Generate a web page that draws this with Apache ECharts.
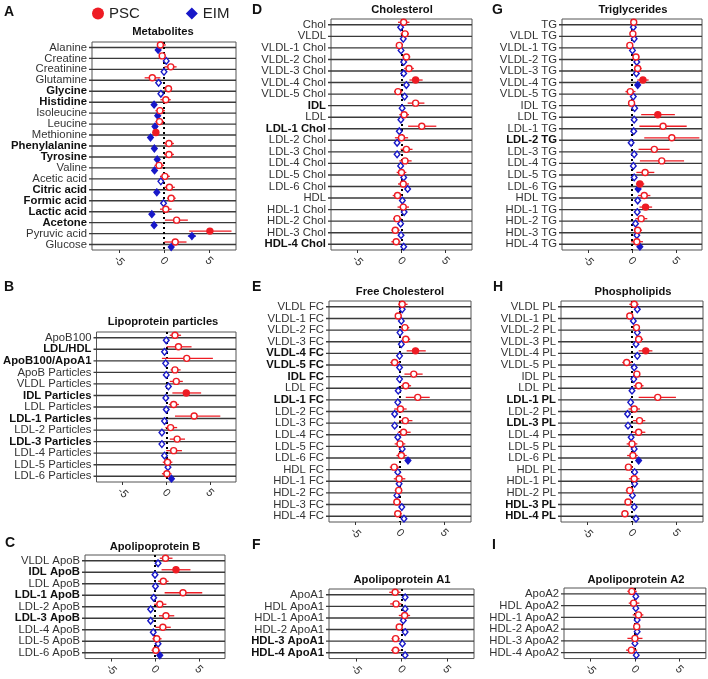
<!DOCTYPE html>
<html><head><meta charset="utf-8">
<script src="https://cdn.jsdelivr.net/npm/echarts@6/dist/echarts.min.js"></script>
<style>html,body{margin:0;padding:0;background:#fff}#c{width:708px;height:679px}</style>
</head><body><div id="c"></div>
<script>
// ---------- DATA ----------
// A Metabolites
const catsA = ['Alanine','Creatine','Creatinine','Glutamine','Glycine','Histidine','Isoleucine','Leucine','Methionine','Phenylalanine','Tyrosine','Valine','Acetic acid','Citric acid','Formic acid','Lactic acid','Acetone','Pyruvic acid','Glucose'];
const boldA = ['Glycine','Histidine','Phenylalanine','Tyrosine','Citric acid','Formic acid','Lactic acid','Acetone'];
const pscA   = [-0.4,-0.2,0.75,-1.3,0.5,0.2,-0.45,-0.5,-0.9,0.55,0.55,-0.55,0.1,0.6,0.8,0.2,1.4,5.1,1.25];
const pscLoA = [-0.75,-0.55,0.05,-2.15,0,-0.4,-0.95,-0.95,-1.3,0,0,-1.05,-0.45,0.05,0.35,-0.45,0.1,2.8,0.05];
const pscHiA = [0.2,0.2,1.4,-0.4,0.9,0.75,0.1,0,-0.55,1.1,1.1,0,0.65,1.2,1.3,0.85,2.65,7.5,2.5];
const pscSigA= [0,0,0,0,0,0,0,0,1,0,0,0,0,0,0,0,0,1,0];
const eimA   = [-0.65,0.25,0,-0.6,-0.35,-1.1,-0.7,-1.0,-1.5,-1.07,-0.75,-1.05,-0.35,-0.8,-0.05,-1.35,-1.1,3.1,0.8];
const eimLoA = [null,null,null,null,null,null,null,null,null,null,null,null,null,null,null,null,null,2.65,null];
const eimHiA = [null,null,null,null,null,null,null,null,null,null,null,null,null,null,null,null,null,3.55,null];
const eimSigA= [1,0,0,0,0,1,1,1,1,1,1,1,0,1,0,1,1,1,1];

// B Lipoprotein particles
const catsB = ['ApoB100','LDL/HDL','ApoB100/ApoA1','ApoB Particles','VLDL Particles','IDL Particles','LDL Particles','LDL-1 Particles','LDL-2 Particles','LDL-3 Particles','LDL-4 Particles','LDL-5 Particles','LDL-6 Particles'];
const boldB = ['LDL/HDL','ApoB100/ApoA1','IDL Particles','LDL-1 Particles','LDL-3 Particles'];
const pscB   = [1.0,1.4,2.35,1.0,1.15,2.3,0.85,3.2,0.5,1.25,0.85,0.15,0.07];
const pscLoB = [0.4,0.05,-0.5,0.5,0.4,0.7,0.3,1.0,-0.1,0.4,0,-0.4,-0.5];
const pscHiB = [1.7,2.9,5.35,1.65,1.9,4.0,1.45,6.2,1.25,2.15,1.8,0.7,0.6];
const pscSigB= [0,0,0,0,0,1,0,0,0,0,0,0,0];
const eimB   = [0,-0.2,-0.07,0,0.25,-0.05,0,-0.2,-0.5,-0.5,-0.2,0.2,0.6];
const eimSigB= [0,0,0,0,0,0,0,0,0,0,0,0,1];

// C Apolipoprotein B
const catsC = ['VLDL ApoB','IDL ApoB','LDL ApoB','LDL-1 ApoB','LDL-2 ApoB','LDL-3 ApoB','LDL-4 ApoB','LDL-5 ApoB','LDL-6 ApoB'];
const boldC = ['IDL ApoB','LDL-1 ApoB','LDL-3 ApoB'];
const pscC   = [1.2,2.4,0.95,3.2,0.55,1.25,0.9,0.2,0.1];
const pscLoC = [0.55,0.75,0.35,1.1,-0.1,0.45,0.05,-0.3,-0.4];
const pscHiC = [2.0,4.05,1.55,5.4,1.3,2.2,1.8,0.75,0.6];
const pscSigC= [0,1,0,0,0,0,0,0,0];
const eimC   = [0.35,0,0.05,-0.15,-0.5,-0.5,-0.2,0.35,0.55];
const eimSigC= [0,0,0,0,0,0,0,0,1];

// D Cholesterol
const catsD = ['Chol','VLDL','VLDL-1 Chol','VLDL-2 Chol','VLDL-3 Chol','VLDL-4 Chol','VLDL-5 Chol','IDL','LDL','LDL-1 Chol','LDL-2 Chol','LDL-3 Chol','LDL-4 Chol','LDL-5 Chol','LDL-6 Chol','HDL','HDL-1 Chol','HDL-2 Chol','HDL-3 Chol','HDL-4 Chol'];
const boldD = ['IDL','LDL-1 Chol','HDL-4 Chol'];
const pscD   = [0.25,0.4,-0.25,0.55,0.85,1.6,-0.4,1.6,0.3,2.3,0,0.55,0.4,0,0.2,-0.45,0.2,-0.5,-0.7,-0.6];
const pscLoD = [-0.4,-0.1,-0.55,0.1,0.3,0.9,-0.85,0.7,-0.25,0.75,-0.75,-0.1,-0.25,-0.55,-0.4,-1.0,-0.45,-0.95,-1.15,-1.15];
const pscHiD = [0.9,0.85,0.1,1.0,1.4,2.4,0.1,2.6,0.85,3.95,0.75,1.25,1.15,0.55,0.85,0,0.85,0,-0.2,-0.1];
const pscSigD= [0,0,0,0,0,1,0,0,0,0,0,0,0,0,0,0,0,0,0,0];
const eimD   = [-0.1,0.2,-0.05,0.25,0.25,0.55,0.35,0.07,-0.07,-0.25,-0.5,-0.5,-0.1,0.25,0.7,0.1,0.3,-0.1,-0.05,0.25];
const eimSigD= [0,0,0,0,0,0,0,0,0,0,0,0,0,0,0,0,0,0,0,0];

// E Free Cholesterol
const catsE = ['VLDL FC','VLDL-1 FC','VLDL-2 FC','VLDL-3 FC','VLDL-4 FC','VLDL-5 FC','IDL FC','LDL FC','LDL-1 FC','LDL-2 FC','LDL-3 FC','LDL-4 FC','LDL-5 FC','LDL-6 FC','HDL FC','HDL-1 FC','HDL-2 FC','HDL-3 FC','HDL-4 FC'];
const boldE = ['VLDL-4 FC','VLDL-5 FC','IDL FC','LDL-1 FC'];
const pscE   = [0.25,-0.2,0.55,0.65,1.75,-0.6,1.55,0.65,2.0,0.05,0.6,0.4,0,0.15,-0.65,-0.1,-0.15,-0.35,-0.25];
const pscLoE = [-0.2,-0.45,0.1,0.2,0.75,-1.1,0.5,0.1,0.65,-0.65,-0.1,-0.25,-0.6,-0.4,-1.15,-0.7,-0.6,-0.75,-0.65];
const pscHiE = [0.85,0.2,1.05,1.15,2.9,0,2.55,1.25,3.35,0.75,1.4,1.2,0.6,0.75,-0.1,0.6,0.25,0.1,0.2];
const pscSigE= [0,0,0,0,1,0,0,0,0,0,0,0,0,0,0,0,0,0,0];
const eimE   = [0.25,0.15,0,0.15,-0.05,-0.05,-0.05,-0.2,-0.25,-0.6,-0.6,-0.25,0.25,0.9,-0.25,-0.1,-0.35,0.2,0.45];
const eimSigE= [0,0,0,0,0,0,0,0,0,0,0,0,0,1,0,0,0,0,0];

// F Apolipoprotein A1
const catsF = ['ApoA1','HDL ApoA1','HDL-1 ApoA1','HDL-2 ApoA1','HDL-3 ApoA1','HDL-4 ApoA1'];
const boldF = ['HDL-3 ApoA1','HDL-4 ApoA1'];
const pscF   = [-0.7,-0.6,0.35,-0.25,-0.65,-0.65];
const pscLoF = [-1.35,-1.25,-0.3,-0.6,-1.1,-1.15];
const pscHiF = [-0.1,0,0.95,0.1,-0.2,-0.1];
const pscSigF= [0,0,0,0,0,0];
const eimF   = [0.4,0.4,0.2,0.4,0.1,0.4];
const eimSigF= [0,0,0,0,0,0];

// G Triglycerides
const catsG = ['TG','VLDL TG','VLDL-1 TG','VLDL-2 TG','VLDL-3 TG','VLDL-4 TG','VLDL-5 TG','IDL TG','LDL TG','LDL-1 TG','LDL-2 TG','LDL-3 TG','LDL-4 TG','LDL-5 TG','LDL-6 TG','HDL TG','HDL-1 TG','HDL-2 TG','HDL-3 TG','HDL-4 TG'];
const boldG = ['LDL-2 TG'];
const pscG   = [0.2,0.1,-0.25,0.45,0.65,1.25,-0.2,-0.05,2.95,3.55,4.55,2.55,3.4,1.5,0.9,1.4,1.55,1.05,0.65,0.55];
const pscLoG = [-0.1,-0.2,-0.45,0.1,0.25,0.6,-0.75,-0.25,1.05,0.85,1.4,0.75,0.9,0.5,0.45,0.7,0.85,0.4,0.2,-0.1];
const pscHiG = [0.5,0.45,0,0.85,1.1,1.9,0.4,0.15,4.9,6.25,7.7,4.3,5.95,2.55,1.4,2.1,2.3,1.75,1.15,1.25];
const pscSigG= [0,0,0,0,0,1,0,0,1,0,0,0,0,0,1,0,1,0,0,0];
const eimG   = [0.15,0.25,0.05,0.55,0.5,0.65,0.15,0.3,0.25,0.2,-0.1,0.25,0.15,0.25,0.7,0.65,0.6,0.4,0.55,0.9];
const eimSigG= [0,0,0,0,0,1,0,0,0,0,0,0,0,0,1,0,0,0,0,1];

// H Phospholipids
const catsH = ['VLDL PL','VLDL-1 PL','VLDL-2 PL','VLDL-3 PL','VLDL-4 PL','VLDL-5 PL','IDL PL','LDL PL','LDL-1 PL','LDL-2 PL','LDL-3 PL','LDL-4 PL','LDL-5 PL','LDL-6 PL','HDL PL','HDL-1 PL','HDL-2 PL','HDL-3 PL','HDL-4 PL'];
const boldH = ['LDL-1 PL','LDL-3 PL','HDL-3 PL','HDL-4 PL'];
const pscH   = [0.25,-0.25,0.5,0.75,1.55,-0.6,0.55,0.75,2.9,0.25,0.85,0.75,0,0.1,-0.4,0.25,-0.25,-0.45,-0.8];
const pscLoH = [-0.3,-0.5,0.15,0.35,0.75,-1.1,0.15,0.2,0.75,-0.4,0.1,0,-0.6,-0.55,-0.8,-0.35,-0.7,-0.8,-1.15];
const pscHiH = [0.75,0.1,0.9,1.25,2.3,0,0.9,1.3,4.95,0.9,1.5,1.5,0.6,0.65,0.1,0.85,0.2,-0.05,-0.4];
const pscSigH= [0,0,0,0,1,0,0,0,0,0,0,0,0,0,0,0,0,0,0];
const eimH   = [0.6,0.15,0.6,0.45,0.6,0.25,0.2,0,-0.15,-0.5,-0.45,-0.1,0.25,0.75,0.3,0.3,0.05,0.25,0.45];
const eimSigH= [0,0,0,0,0,0,0,0,0,0,0,0,0,1,0,0,0,0,0];

// I Apolipoprotein A2
const catsI = ['ApoA2','HDL ApoA2','HDL-1 ApoA2','HDL-2 ApoA2','HDL-3 ApoA2','HDL-4 ApoA2'];
const boldI = [];
const pscI   = [-0.35,-0.15,0.4,0.2,0,-0.4];
const pscLoI = [-0.85,-0.7,-0.25,-0.1,-0.85,-1.0];
const pscHiI = [0.2,0.5,0.95,0.5,0.85,0.25];
const pscSigI= [0,0,0,0,0,0];
const eimI   = [0.1,0.1,0.25,0.25,0,0.15];
const eimSigI= [0,0,0,0,0,0];

const xTickLabels = [-5, 0, 5];
const legendNames = ['PSC', 'EIM'];

// ---------- PANELS ----------
const panels = [
  {letter:'A', title:'Metabolites', cats:catsA, bold:boldA, psc:pscA, lo:pscLoA, hi:pscHiA, sig:pscSigA, eim:eimA, eimSig:eimSigA, eimLo:eimLoA, eimHi:eimHiA},
  {letter:'B', title:'Lipoprotein particles', cats:catsB, bold:boldB, psc:pscB, lo:pscLoB, hi:pscHiB, sig:pscSigB, eim:eimB, eimSig:eimSigB},
  {letter:'C', title:'Apolipoprotein B', cats:catsC, bold:boldC, psc:pscC, lo:pscLoC, hi:pscHiC, sig:pscSigC, eim:eimC, eimSig:eimSigC},
  {letter:'D', title:'Cholesterol', cats:catsD, bold:boldD, psc:pscD, lo:pscLoD, hi:pscHiD, sig:pscSigD, eim:eimD, eimSig:eimSigD},
  {letter:'E', title:'Free Cholesterol', cats:catsE, bold:boldE, psc:pscE, lo:pscLoE, hi:pscHiE, sig:pscSigE, eim:eimE, eimSig:eimSigE},
  {letter:'F', title:'Apolipoprotein A1', cats:catsF, bold:boldF, psc:pscF, lo:pscLoF, hi:pscHiF, sig:pscSigF, eim:eimF, eimSig:eimSigF},
  {letter:'G', title:'Triglycerides', cats:catsG, bold:boldG, psc:pscG, lo:pscLoG, hi:pscHiG, sig:pscSigG, eim:eimG, eimSig:eimSigG},
  {letter:'H', title:'Phospholipids', cats:catsH, bold:boldH, psc:pscH, lo:pscLoH, hi:pscHiH, sig:pscSigH, eim:eimH, eimSig:eimSigH},
  {letter:'I', title:'Apolipoprotein A2', cats:catsI, bold:boldI, psc:pscI, lo:pscLoI, hi:pscHiI, sig:pscSigI, eim:eimI, eimSig:eimSigI}
];
// layout (positions only)
const grids = {
  A:{left:92, top:42, width:144, height:208},
  B:{left:92, top:332, width:144, height:150},
  C:{left:85, top:555, width:140, height:105},
  D:{left:331, top:19, width:141, height:231},
  E:{left:329, top:301, width:142, height:221},
  F:{left:329, top:589, width:145, height:72},
  G:{left:562, top:19, width:140, height:231},
  H:{left:561, top:301, width:142, height:221},
  I:{left:564, top:588, width:142, height:73}
};
const titlePos = {A:[163,32],B:[163,322],C:[155,547],D:[402,10],E:[400,292],F:[402,580],G:[633,10],H:[633,292],I:[636,580]};
const letterPos = {A:[4,12],B:[4,287],C:[5,543],D:[252,10],E:[252,287],F:[252,545],G:[492,10],H:[493,287],I:[492,545]};

const RED = '#ee1c24', BLUE = '#1818c8';
const FONT = '"Liberation Sans", Arial, Helvetica, sans-serif';
const LABEL_SIZE = 11.3;

function renderRows(params, api) {
  const p = api.coord([0, api.value(1)]);
  const cs = params.coordSys;
  return {type:'line', shape:{x1:cs.x - 3, y1:p[1], x2:cs.x + cs.width, y2:p[1]},
    style:{stroke:'#3a3a3a', lineWidth:1.4}};
}
function renderPSC(params, api) {
  const c = api.value(1);
  const p = api.coord([api.value(0), c]);
  const pl = api.coord([api.value(2), c]);
  const ph = api.coord([api.value(3), c]);
  const y = p[1] - 2.5;
  const sig = api.value(4);
  return {type:'group', children:[
    {type:'line', shape:{x1:pl[0], y1:y, x2:ph[0], y2:y}, style:{stroke:RED, lineWidth:1.3}},
    {type:'circle', shape:{cx:p[0], cy:y, r:3}, style:{fill: sig ? RED : '#fff', stroke:RED, lineWidth:1.4}}
  ]};
}
function renderEIM(params, api) {
  const c = api.value(1);
  const p = api.coord([api.value(0), c]);
  const y = p[1] + 2.5;
  const sig = api.value(2);
  const children = [];
  const lo = api.value(3), hi = api.value(4);
  if (lo != null && !isNaN(lo) && hi != null && !isNaN(hi)) {
    const pl = api.coord([lo, c]), ph = api.coord([hi, c]);
    children.push({type:'line', shape:{x1:pl[0], y1:y, x2:ph[0], y2:y}, style:{stroke:BLUE, lineWidth:1.3}});
  }
  const r = 3.3;
  children.push({type:'polygon', shape:{points:[[p[0], y - r], [p[0] + r * 0.85, y], [p[0], y + r], [p[0] - r * 0.85, y]]},
    style:{fill: sig ? BLUE : '#fff', stroke:BLUE, lineWidth:1.4}});
  return {type:'group', children};
}

const option = {
  animation:false,
  backgroundColor:'#fff',
  textStyle:{fontFamily:FONT},
  legend:{
    left:87, top:1, itemWidth:12, itemHeight:12, itemGap:46,
    textStyle:{fontSize:15, color:'#222', fontFamily:FONT},
    data:[{name:legendNames[0], icon:'circle'}, {name:legendNames[1], icon:'diamond'}],
    selectedMode:false
  },
  grid:[], xAxis:[], yAxis:[], series:[], graphic:[]
};

panels.forEach((pn, i) => {
  const g = grids[pn.letter];
  option.grid.push(Object.assign({show:true, borderColor:'#555', borderWidth:1, backgroundColor:'transparent', containLabel:false}, g));
  option.xAxis.push({
    type:'value', gridIndex:i, min:-8, max:8, interval:1,
    splitLine:{show:false}, axisLine:{show:false},
    axisTick:{show:true, length:3, lineStyle:{color:'#333', width:1}, customValues:xTickLabels},
    axisLabel:{rotate:-45, align:'center', verticalAlign:'middle', margin:11, fontSize:11, color:'#333', fontFamily:FONT,
      formatter: v => xTickLabels.includes(v) ? String(v) : ''}
  });
  const boldSet = new Set(pn.bold);
  option.yAxis.push({
    type:'category', gridIndex:i, data:pn.cats, inverse:true,
    axisLine:{show:false}, axisTick:{show:false}, splitLine:{show:false},
    axisLabel:{interval:0, margin:5, fontSize:LABEL_SIZE, color:'#333', fontFamily:FONT,
      formatter: v => boldSet.has(v) ? '{b|' + v + '}' : '{n|' + v + '}',
      rich:{
        b:{fontWeight:'bold', fontSize:LABEL_SIZE, color:'#111', fontFamily:FONT},
        n:{fontSize:LABEL_SIZE, color:'#333', fontFamily:FONT}
      }}
  });
  option.series.push({
    type:'custom', name:'rows' + pn.letter, xAxisIndex:i, yAxisIndex:i, z:1, silent:true,
    renderItem:renderRows,
    data:pn.cats.map((c, k) => [0, k]),
    markLine:{symbol:'none', silent:true, label:{show:false}, z:3,
      lineStyle:{type:[2,3], color:'#000', width:2},
      data:[{xAxis:0}]}
  });
  option.series.push({
    type:'custom', name:legendNames[1], xAxisIndex:i, yAxisIndex:i, z:4,
    itemStyle:{color:BLUE},
    renderItem:renderEIM,
    encode:{x:0, y:1},
    data:pn.eim.map((v, k) => [v, k, pn.eimSig[k], pn.eimLo ? pn.eimLo[k] : null, pn.eimHi ? pn.eimHi[k] : null])
  });
  option.series.push({
    type:'custom', name:legendNames[0], xAxisIndex:i, yAxisIndex:i, z:5,
    itemStyle:{color:RED},
    renderItem:renderPSC,
    encode:{x:[0,2,3], y:1},
    data:pn.psc.map((v, k) => [v, k, pn.lo[k], pn.hi[k], pn.sig[k]])
  });
  const tp = titlePos[pn.letter], lp = letterPos[pn.letter];
  option.graphic.push({type:'text', x:tp[0], y:tp[1], silent:true,
    style:{text:pn.title, align:'center', verticalAlign:'middle', textAlign:'center', textVerticalAlign:'middle',
      font:'bold 11.2px ' + FONT, fill:'#111'}});
  option.graphic.push({type:'text', x:lp[0], y:lp[1], silent:true,
    style:{text:pn.letter, align:'left', verticalAlign:'middle', textAlign:'left', textVerticalAlign:'middle',
      font:'bold 14px ' + FONT, fill:'#111'}});
});

const chart = echarts.init(document.getElementById('c'), null, {renderer:'canvas'});
chart.setOption(option);
</script>
</body></html>
